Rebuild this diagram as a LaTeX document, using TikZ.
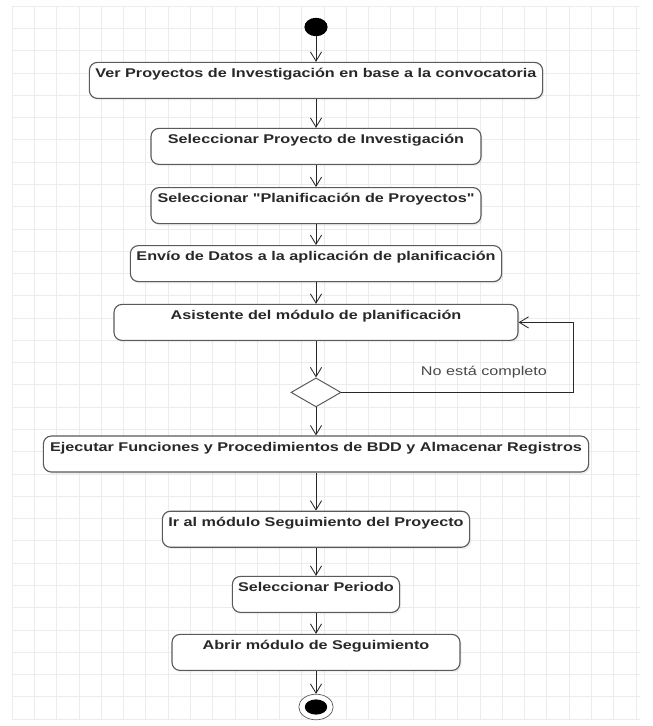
\documentclass[tikz,border=0pt]{standalone}
\usepackage{fontspec}
\setmainfont{Liberation Sans}[FakeStretch=1.28, Ligatures=TeXOff]
\usepackage{xcolor}
\usepackage{tikz}
\usetikzlibrary{arrows.meta, positioning, calc, shapes.geometric, shadows}
\definecolor{bordegris}{RGB}{90,90,90}
\definecolor{textogris}{RGB}{40,40,40}
\definecolor{rejillagris}{RGB}{236,236,236}

\begin{document}
\begin{tikzpicture}[
    font=\fontsize{9}{11}\selectfont,
    actividad/.style={draw=bordegris, line width=0.8pt, rounded corners=0.2cm, fill=white,
                 text height=0.275cm, text depth=0.425cm, inner ysep=0.1cm, inner xsep=0pt,
                 align=center, text=textogris, font=\fontsize{9}{11}\selectfont\bfseries,
                 drop shadow={opacity=0.12, shadow xshift=0.04cm, shadow yshift=-0.05cm}},
    flecha/.style={-{Straight Barb[length=2.3mm, width=2.8mm]}, draw=textogris, line width=0.6pt}
  ]
    \useasboundingbox (0,0) rectangle (16.3,-18.15);
    % Fondo cuadriculado del editor
    \draw[rejillagris, line width=0.4pt, xshift=0.3cm, yshift=-0.15cm]
      (0,0) grid[step=0.557cm] (15.7,-17.85);

    \node[ellipse, fill=black, minimum width=0.58cm, minimum height=0.46cm, inner sep=0pt] (inicio) at (7.9,-0.675) {};
    \node[actividad, minimum width=11.33cm] (ver) at (7.9,-2.01) {Ver Proyectos de Investigación en base a la convocatoria};
    \node[actividad, minimum width=8.25cm] (selproy) at (7.9,-3.66) {Seleccionar Proyecto de Investigación};
    \node[actividad, minimum width=8.25cm] (selplan) at (7.9,-5.14) {Seleccionar "Planificación de Proyectos"};
    \node[actividad, minimum width=9.28cm] (envio) at (7.9,-6.59) {Envío de Datos a la aplicación de planificación};
    \node[actividad, minimum width=10.1cm] (asistente) at (7.9,-8.06) {Asistente del módulo de planificación};
    \node[diamond, draw=bordegris, line width=0.7pt, fill=white, aspect=1.7, inner sep=0pt,
          minimum width=1.25cm, minimum height=0.725cm] (decision) at (7.9,-9.81) {};
    \node[actividad, minimum width=13.63cm] (ejecutar) at (7.9,-11.35) {Ejecutar Funciones y Procedimientos de BDD y Almacenar Registros};
    \node[actividad, minimum width=7.68cm] (iralmod) at (7.9,-13.23) {Ir al módulo Seguimiento del Proyecto};
    \node[actividad, minimum width=4.18cm] (periodo) at (7.9,-14.86) {Seleccionar Periodo};
    \node[actividad, minimum width=7.2cm] (abrir) at (7.9,-16.31) {Abrir módulo de Seguimiento};
    \node[ellipse, draw=bordegris, line width=0.5pt, fill=white, minimum width=0.86cm, minimum height=0.64cm, inner sep=0pt] (fin) at (7.9,-17.675) {};
    \node[ellipse, fill=black, minimum width=0.56cm, minimum height=0.38cm, inner sep=0pt] (finpunto) at (fin.center) {};

    \foreach \a/\b in {inicio/ver, ver/selproy, selproy/selplan, selplan/envio, envio/asistente,
                       asistente/decision, decision/ejecutar, ejecutar/iralmod, iralmod/periodo,
                       periodo/abrir, abrir/fin} {
      \draw[flecha] (\a) -- (\b);
    }

    % Retorno cuando el asistente no termina
    \coordinate (lazo) at (14.33,-8.06);
    \draw[flecha] (decision.east) -| (lazo) -- (asistente.east);
    \node[text=textogris!85] (nocompleto) at (12.1,-9.3) {No está completo};
  \end{tikzpicture}
\end{document}
